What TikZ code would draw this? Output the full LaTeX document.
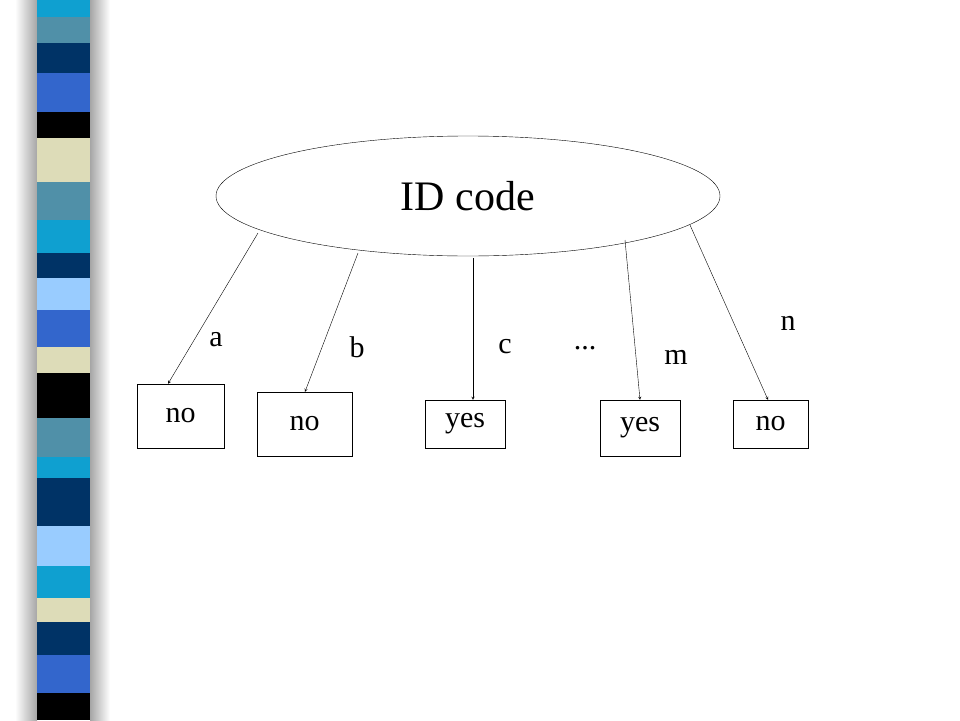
\documentclass[tikz,border=0pt]{standalone}
\usepackage{fontspec}
\usetikzlibrary{shapes.geometric}
\setmainfont{Liberation Serif}
\begin{document}
\begin{tikzpicture}[x=1pt,y=-1pt,
  box/.style={draw,thin,fill=white,inner sep=0pt},
  arr/.style={-stealth,thin},
  lab/.style={font=\fontsize{30}{30}\selectfont}]
\useasboundingbox (0,0) rectangle (960,720);
\fill[white] (0,0) rectangle (960,720);
\shade[left color=white,right color=gray!70] (15,0) rectangle (37,720);
\shade[left color=gray!70,right color=white] (90,0) rectangle (110,720);
\definecolor{cy}{HTML}{0FA0D0}\definecolor{st}{HTML}{5090A8}
\definecolor{nv}{HTML}{003366}\definecolor{ro}{HTML}{3366CC}
\definecolor{be}{HTML}{DDDCB8}\definecolor{lb}{HTML}{99CCFF}
\foreach \a/\b/\c in {0/17/cy,17/43/st,43/73/nv,73/112/ro,112/138/black,138/182/be,182/220/st,220/253/cy,253/278/nv,278/310/lb,310/347/ro,347/373/be,373/418/black,418/457/st,457/478/cy,478/526/nv,526/566/lb,566/598/cy,598/622/be,622/655/nv,655/693/ro,693/720/black}
  \fill[\c] (37,\a) rectangle (90,\b);
\node[draw,thin,ellipse,minimum width=504,minimum height=120,font=\fontsize{42}{42}\selectfont] (id) at (468,196) {ID code};
\node[box,minimum width=87,minimum height=64,lab] (n1) at (180.5,416) {no};
\node[box,minimum width=95,minimum height=64,lab] (n2) at (304.5,424) {no};
\node[box,minimum width=80,minimum height=48,lab] (y1) at (465,424) {yes};
\node[box,minimum width=80,minimum height=56,lab] (y2) at (640,428) {yes};
\node[box,minimum width=75,minimum height=48,lab] (n3) at (770.5,424) {no};
\coordinate (s1) at (258,233);\coordinate (s2) at (358,253);\coordinate (s3) at (473,258);
\coordinate (s4) at (625,240);\coordinate (s5) at (690,225);
\draw[arr] (s1) -- (n1.north -| 168,0);
\draw[arr] (s2) -- (n2.north -| 305,0);
\draw[arr] (s3) -- (y1.north -| 473,0);
\draw[arr] (s4) -- (y2.north -| 640,0);
\draw[arr] (s5) -- (n3.north -| 768,0);
\node[lab] (la) at (216,340) {a};
\node[lab] (lb) at (357,347) {b};
\node[lab] (lc) at (505,347) {c};
\node[lab] (ld) at (585,348) {...};
\node[lab] (lm) at (676,357) {m};
\node[lab] (ln) at (788,323) {n};
\end{tikzpicture}
\end{document}
